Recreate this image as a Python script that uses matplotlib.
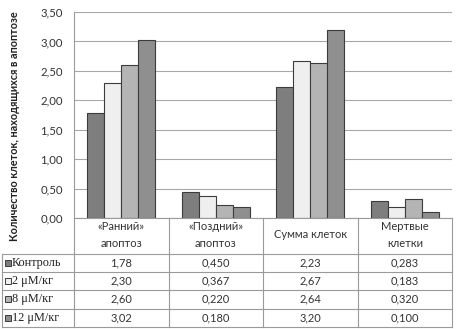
import matplotlib.pyplot as plt
from matplotlib.patches import Rectangle
from matplotlib.lines import Line2D
import numpy as np

categories = ['«Ранний»\nапоптоз', '«Поздний»\nапоптоз', 'Сумма клеток', 'Мертвые\nклетки']
series_names = ['Контроль', '2 μM/кг', '8 μM/кг', '12 μM/кг']
control = [1.78, 0.450, 2.23, 0.283]
dose_2 = [2.30, 0.367, 2.67, 0.183]
dose_8 = [2.60, 0.220, 2.64, 0.320]
dose_12 = [3.02, 0.180, 3.20, 0.100]
table_text = [
    ['1,78', '0,450', '2,23', '0,283'],
    ['2,30', '0,367', '2,67', '0,183'],
    ['2,60', '0,220', '2,64', '0,320'],
    ['3,02', '0,180', '3,20', '0,100'],
]
yticks = [0, 0.5, 1.0, 1.5, 2.0, 2.5, 3.0, 3.5]
ytick_labels = ['0,00', '0,50', '1,00', '1,50', '2,00', '2,50', '3,00', '3,50']
colors = ['#7e7e7e', '#efefef', '#b4b4b4', '#8f8f8f']

plt.rcParams['font.family'] = ['Lato', 'DejaVu Sans']

W, H = 457, 329
fig = plt.figure(figsize=(W / 100, H / 100), dpi=100)
fig.patch.set_facecolor('white')

# pixel helpers (top-left origin)
def fx(px):
    return px / W

def fy(py):
    return 1 - py / H

left, right, top, bottom = 74, 452, 12, 218
ax = fig.add_axes([fx(left), fy(bottom), fx(right) - fx(left), fy(top) - fy(bottom)])

series = [control, dose_2, dose_8, dose_12]
x = np.arange(len(categories))
bw = 0.18
for i, vals in enumerate(series):
    ax.bar(x + (i - 1.5) * bw, vals, bw, color=colors[i], edgecolor='#3c3c3c',
           linewidth=0.8, zorder=3)

ax.set_xlim(-0.5, len(categories) - 0.5)
ax.set_ylim(0, 3.5)
ax.set_yticks(yticks)
ax.set_yticklabels(ytick_labels, fontsize=8.2, color='#333333')
ax.set_xticks([])
ax.yaxis.grid(True, color='#a8a8a8', linewidth=0.8, zorder=0)
ax.tick_params(axis='y', length=0, pad=8)
for s in ['top', 'right', 'bottom']:
    ax.spines[s].set_visible(False)
ax.spines['left'].set_color('#9a9a9a')
ax.spines['left'].set_linewidth(0.8)

fig.text(fx(15), fy(126), 'Количество клеток, находящихся в апоптозе', rotation=90,
         ha='center', va='center', fontsize=7.8, fontweight='bold', color='#222222')

# table below the chart
line_kw = dict(color='#9a9a9a', linewidth=0.8, transform=fig.transFigure)
col_x = [74, 168.5, 263, 357.5, 452]
row_y = [254, 272, 290, 308.5, 327]
fig.add_artist(Line2D([fx(74), fx(452)], [fy(218), fy(218)], **line_kw))
for yy in row_y:
    fig.add_artist(Line2D([fx(2), fx(452)], [fy(yy), fy(yy)], **line_kw))
for xx in col_x:
    fig.add_artist(Line2D([fx(xx), fx(xx)], [fy(218), fy(327)], **line_kw))
fig.add_artist(Line2D([fx(2), fx(2)], [fy(254), fy(327)], **line_kw))

for j, cat in enumerate(categories):
    cx = (col_x[j] + col_x[j + 1]) / 2
    fig.text(fx(cx), fy(235), cat, ha='center', va='center', fontsize=8,
             color='#333333', linespacing=1.6)

for i, name in enumerate(series_names):
    cy = (row_y[i] + row_y[i + 1]) / 2
    fig.add_artist(Rectangle((fx(5), fy(cy + 3)), fx(6), 6 / H, transform=fig.transFigure,
                             facecolor=colors[i], edgecolor='#3c3c3c', linewidth=0.7))
    fig.text(fx(12), fy(cy), name, ha='left', va='center', fontsize=8.8,
             family=['Liberation Serif', 'DejaVu Serif'], color='#222222')
    for j in range(len(categories)):
        cx = (col_x[j] + col_x[j + 1]) / 2
        fig.text(fx(cx), fy(cy), table_text[i][j], ha='center', va='center',
                 fontsize=8, color='#333333')

fig.savefig('out.png', dpi=100)
